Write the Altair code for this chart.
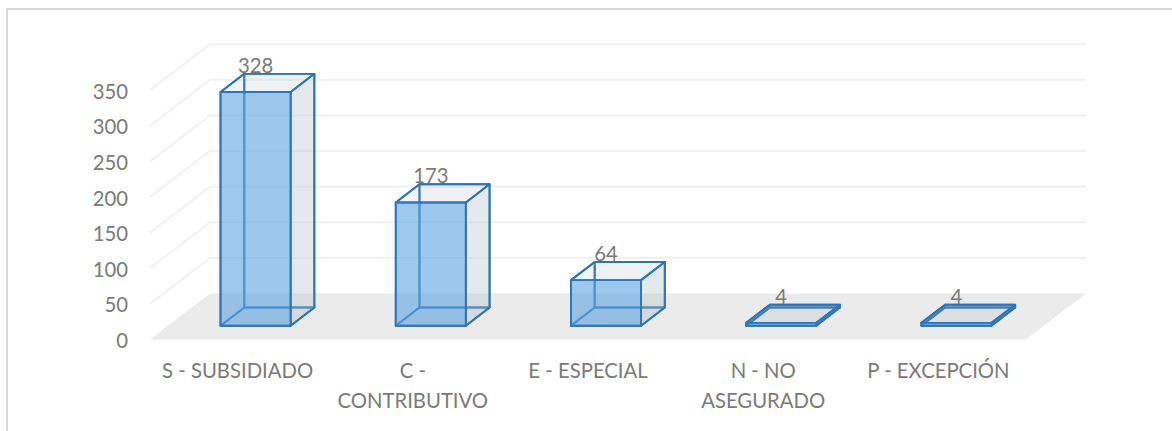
import altair as alt
import pandas as pd

# Chart content
categories = ["S - SUBSIDIADO", "C -\nCONTRIBUTIVO", "E - ESPECIAL", "N - NO\nASEGURADO", "P - EXCEPCIÓN"]
values = [328, 173, 64, 4, 4]
y_ticks = [0, 50, 100, 150, 200, 250, 300, 350]

# Oblique projection: a point at depth z (0 = front, 1 = back) shifts by these data units
DEPTH_X = 0.3425
DEPTH_Y = 64.5
Z_FRONT, Z_BACK = 0.3, 0.695
BAR_WIDTH = 0.4

X_SCALE = alt.Scale(domain=[-0.856, 5.833], nice=False, zero=False)
Y_SCALE = alt.Scale(domain=[-128.4, 476.5], nice=False, zero=False)

FONT = "Lato"
FONT_SIZE = 20.3
TEXT = "#7A7A7A"
EDGE = "#2E75B6"
STROKE = 1.9


def px(cat, z):
    return cat + DEPTH_X * z


def py(val, z):
    return val + DEPTH_Y * z


# One row per vertex pair of each visible bar face
faces = []
for i, val in enumerate(values):
    left = i + 0.5 - BAR_WIDTH / 2
    right = left + BAR_WIDTH
    zf, zb = Z_FRONT, Z_BACK

    def add(face, a, b):
        for row in (a, b):
            faces.append(dict(bar=i, face=face, x=row[0], x2=row[1], y=row[2], y2=row[3]))

    # upright faces run along x, flat faces run along y
    add("front", (px(left, zf), None, py(val, zf), py(0, zf)), (px(right, zf), None, py(val, zf), py(0, zf)))
    add("back", (px(left, zb), None, py(val, zb), py(0, zb)), (px(right, zb), None, py(val, zb), py(0, zb)))
    add("wall", (px(left, zf), None, py(val, zf), py(0, zf)), (px(left, zb), None, py(val, zb), py(0, zb)))
    add("side", (px(right, zf), None, py(val, zf), py(0, zf)), (px(right, zb), None, py(val, zb), py(0, zb)))
    add("top", (px(left, zf), px(right, zf), py(val, zf), None), (px(left, zb), px(right, zb), py(val, zb), None))
    add("bottom", (px(left, zf), px(right, zf), py(0, zf), None), (px(left, zb), px(right, zb), py(0, zb), None))
faces = pd.DataFrame(faces)

grid = []
for v in y_ticks[1:]:
    grid += [
        dict(v=v, step=0, x=0, y=v),
        dict(v=v, step=1, x=DEPTH_X, y=py(v, 1)),
        dict(v=v, step=2, x=5 + DEPTH_X, y=py(v, 1)),
    ]
grid = pd.DataFrame(grid)

floor = pd.DataFrame([
    dict(x=0, x2=5, y=0),
    dict(x=DEPTH_X, x2=5 + DEPTH_X, y=py(0, 1)),
])

labels = pd.DataFrame(dict(
    x=[px(i + 0.5, Z_FRONT) for i in range(5)],
    y=[py(v, Z_FRONT) for v in values],
    t=[str(v) for v in values],
))
cat_labels = pd.DataFrame(dict(x=[i + 0.5 for i in range(5)], t=categories))
tick_labels = pd.DataFrame(dict(x=[0] * len(y_ticks), y=y_ticks, t=[str(v) for v in y_ticks]))


def X(field="x"):
    return alt.X(f"{field}:Q", scale=X_SCALE, axis=None)


def Y(field="y"):
    return alt.Y(f"{field}:Q", scale=Y_SCALE, axis=None)


frame_top = alt.Chart(pd.DataFrame(dict(a=[0]))).mark_rule(color="#D9D9D9", strokeWidth=2).encode(
    x=alt.value(6), x2=alt.value(1172), y=alt.value(9)
)
frame_left = alt.Chart(pd.DataFrame(dict(a=[0]))).mark_rule(color="#D9D9D9", strokeWidth=2).encode(
    x=alt.value(7), y=alt.value(9), y2=alt.value(431)
)

tick_text = alt.Chart(tick_labels).mark_text(
    font=FONT, fontSize=FONT_SIZE, color=TEXT, align="right", baseline="middle", dx=-22, dy=2.5
).encode(x=X(), y=Y(), text="t:N")

grid_lines = alt.Chart(grid).mark_line(color="#F2F2F2", strokeWidth=2).encode(
    x=X(), y=Y(), detail="v:N", order="step:Q"
)
floor_area = alt.Chart(floor).mark_area(orient="horizontal", color="#EBEBEB").encode(
    y=Y(), x=X(), x2="x2:Q"
)


def upright(face, fill, opacity):
    return alt.Chart(faces[faces.face == face]).mark_area(
        orient="vertical", fill=fill, fillOpacity=opacity, stroke=EDGE, strokeWidth=STROKE, strokeJoin="round",
    ).encode(x=X(), y=Y(), y2="y2:Q", detail="bar:N")


def flat(face, fill, opacity):
    return alt.Chart(faces[faces.face == face]).mark_area(
        orient="horizontal", fill=fill, fillOpacity=opacity, stroke=EDGE, strokeWidth=STROKE, strokeJoin="round",
    ).encode(y=Y(), x=X(), x2="x2:Q", detail="bar:N")


bar_labels = alt.Chart(labels).mark_text(
    font=FONT, fontSize=FONT_SIZE, color=TEXT, baseline="middle", dy=-25
).encode(x=X(), y=Y(), text="t:N")

category_text = alt.Chart(cat_labels).mark_text(
    font=FONT, fontSize=FONT_SIZE, color=TEXT, baseline="middle", lineBreak="\n", lineHeight=29.5
).encode(x=X(), y=alt.value(372), text="t:N")

chart = alt.layer(
    frame_top,
    frame_left,
    tick_text,
    grid_lines,
    floor_area,
    upright("back", "#B5C3CE", 0.1),
    upright("wall", "#B5C3CE", 0.05),
    flat("bottom", "#B5C3CE", 0.2),
    bar_labels,
    upright("side", "#B5C3CE", 0.3),
    flat("top", "#B5C3CE", 0.12),
    upright("front", "#61A5E3", 0.6),
    category_text,
).properties(
    width=1172,
    height=431,
    padding=0,
    background="white",
    autosize=alt.AutoSizeParams(type="none"),
).configure_view(stroke=None)

chart.save("out.html", embed_options={"renderer": "svg", "actions": False})
